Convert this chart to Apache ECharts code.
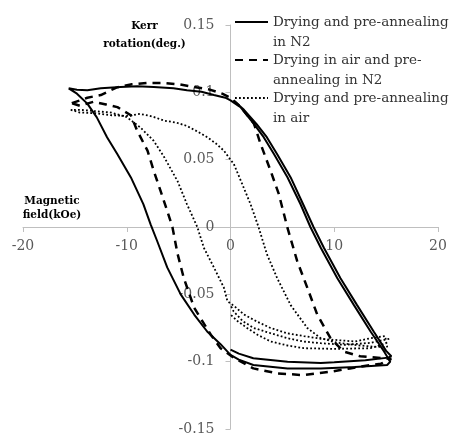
<!DOCTYPE html>
<html>
<head>
<meta charset="utf-8">
<script src="https://cdn.jsdelivr.net/npm/echarts@6/dist/echarts.min.js"></script>
<style>html,body{margin:0;padding:0;background:#fff;}#c{width:450px;height:433px;}</style>
</head>
<body>
<div id="c"></div>
<script>
// ---- data (field kOe, Kerr rotation deg.) ----
var seriesNames = ['Drying and pre-annealing in N2', 'Drying in air and pre-annealing in N2', 'Drying and pre-annealing in air'];
var legendLabels = ['Drying and pre-annealing\nin N2', 'Drying in air and pre-\nannealing in N2', 'Drying and pre-annealing\nin air'];
var xTicks = [-20, -10, 0, 10, 20];
var yTicks = [-0.15, -0.1, -0.05, 0, 0.05, 0.1, 0.15];

var loopN2 = [
  [-15.6,0.103],[-14.8,0.102],[-13.8,0.1015],[-12.5,0.103],[-10.6,0.104],[-9,0.1045],[-7.4,0.104],[-5.5,0.103],[-4.2,0.1015],[-2.8,0.1005],[-1.6,0.098],[-0.5,0.096],[0,0.094],
  [0.96,0.089],[2.25,0.0766],[3.2,0.0667],[4.2,0.054],[5.5,0.0368],[6.75,0.0169],[7.7,0],[8.7,-0.0154],[10.3,-0.038],[11.9,-0.058],[13.5,-0.0776],[14.8,-0.0925],[15.4,-0.1],
  [15.1,-0.1025],[12,-0.104],[8.7,-0.105],[5.5,-0.105],[2.2,-0.1025],[0.8,-0.0985],[0,-0.095],
  [-0.96,-0.087],[-2.25,-0.0776],[-3.5,-0.065],[-4.8,-0.05],[-6.1,-0.03],[-7.07,-0.0104],[-7.7,0.002],[-8.4,0.017],[-9.6,0.0368],[-10.9,0.054],[-11.9,0.0667],[-12.9,0.0816],[-13.8,0.0916],[-14.8,0.099],[-15.6,0.103],
  [null,null],
  [0.3,0.094],[1.3,0.087],[2.5,0.0766],[3.5,0.0667],[4.5,0.054],[5.8,0.0368],[7.0,0.0169],[8.0,0],[9.0,-0.0154],[10.6,-0.038],[12.2,-0.058],[13.8,-0.0776],[15.0,-0.092],[15.5,-0.096],
  [15.2,-0.097],[13,-0.099],[10,-0.1005],[8.7,-0.101],[5.5,-0.1],[2.2,-0.0975],[0.8,-0.094],[0,-0.091]
];

var loopAirN2 = [
  [-15.3,0.092],[-14.5,0.094],[-13.8,0.096],[-12.5,0.098],[-11,0.1035],[-9.5,0.106],[-8,0.107],[-6.5,0.107],[-5,0.106],[-3.5,0.104],[-2,0.102],[-0.8,0.099],[0,0.096],
  [1,0.089],[2.25,0.077],[2.9,0.0617],[3.86,0.0418],[4.66,0.0244],[5.47,0],[6.43,-0.0254],[7.4,-0.045],[8.36,-0.065],[9.64,-0.0826],[10.9,-0.0925],[12.5,-0.096],[14.8,-0.0975],[15.5,-0.098],
  [14.5,-0.1015],[13.5,-0.1025],[11.5,-0.105],[9.64,-0.1075],[7.07,-0.11],[4.5,-0.1087],[2.2,-0.105],[0.3,-0.097],
  [-0.96,-0.09],[-1.9,-0.08],[-3.5,-0.06],[-4.5,-0.038],[-5.1,-0.02],[-5.6,0],[-6.1,0.012],[-6.75,0.027],[-7.4,0.0418],[-8.0,0.0567],[-9.0,0.0716],[-9.6,0.083],[-10.9,0.089],[-12,0.091],[-13.2,0.093],[-14.5,0.09],[-15.3,0.092]
];

var loopAir = [
  [-15.4,0.087],[-14.5,0.085],[-13,0.0845],[-11.5,0.083],[-10,0.0825],[-8.7,0.084],[-7.5,0.082],[-6.4,0.079],[-5.2,0.0775],[-4.2,0.075],[-3.2,0.071],[-2.25,0.0667],[-1.4,0.062],[-0.64,0.0567],[0,0.05],[0.32,0.0468],
  [0.96,0.035],[1.93,0.017],[2.7,0],[3.5,-0.02],[4.5,-0.038],[5.8,-0.058],[7.4,-0.075],[8.7,-0.0826],[10.3,-0.086],[12.5,-0.088],[14,-0.089],[15.1,-0.089],
  [14.9,-0.081],[13.5,-0.0826],[12,-0.085],[10.3,-0.084],[8.7,-0.083],[7.07,-0.081],[5.5,-0.079],[3.86,-0.075],[2.5,-0.07],[1.3,-0.065],[0.4,-0.059],[-0.3,-0.055],
  [-0.64,-0.045],[-1.6,-0.03],[-2.57,-0.0154],[-3.2,0],[-4.2,0.017],[-5.1,0.034],[-6.4,0.052],[-7.4,0.064],[-8.7,0.074],[-10,0.0816],[-11.5,0.085],[-13,0.086],[-14.5,0.087],[-15.4,0.087],
  [null,null],
  [15.3,-0.083],[13.5,-0.086],[11,-0.0875],[8.7,-0.0863],[7,-0.085],[5.5,-0.0826],[3.5,-0.078],[2.25,-0.075],[1.2,-0.07],[0.3,-0.0627],[0,-0.058],
  [null,null],
  [15.1,-0.086],[13.5,-0.09],[10,-0.0905],[7.07,-0.09],[5.5,-0.088],[3.86,-0.085],[2.6,-0.08],[1.6,-0.075],[0.7,-0.07],[0,-0.065]
];

var seriesData = [loopN2, loopAirN2, loopAir];
var lineStyles = [
  {color:'#000', width:2, type:'solid'},
  {color:'#000', width:2.5, type:[8,6]},
  {color:'#000', width:1.8, type:[1.8,2.2]}
];

var chart = echarts.init(document.getElementById('c'));
var serif = 'DejaVu Serif';
var labelMap = {};
seriesNames.forEach(function(n,i){ labelMap[n] = legendLabels[i]; });

var W = 450, H = 433, gL = 23, gR = 12, gT = 25, gB = 4;

chart.setOption({
  animation: false,
  grid: {left: gL, right: gR, top: gT, bottom: gB, containLabel: false, outerBoundsMode: 'none'},
  legend: {
    orient: 'vertical', left: 234, top: -8, padding: 0,
    itemWidth: 33, itemHeight: 14, itemGap: -22,
    data: seriesNames,
    itemStyle: {opacity: 0},
    formatter: function(name){ return '\n' + labelMap[name]; },
    textStyle: {fontFamily: serif, fontSize: 13.5, color: '#333', lineHeight: 20}
  },
  xAxis: {
    type: 'value', min: xTicks[0], max: xTicks[xTicks.length-1], interval: 10,
    position: 'bottom', offset: -(H - gT - gB) / 2,
    name: 'Magnetic\nfield(kOe)', nameLocation: 'start', nameGap: 0, nameMoveOverlap: false,
    nameTextStyle: {fontFamily: serif, fontSize: 10.5, fontWeight: 'bold', color: '#000', lineHeight: 14,
      align: 'center', verticalAlign: 'bottom', padding: [0,0,5,58]},
    axisLine: {onZero: false, lineStyle: {color: '#bfbfbf', width: 1}},
    axisTick: {show: true, length: 5, lineStyle: {color: '#bfbfbf'}},
    axisLabel: {margin: 12, fontFamily: serif, fontSize: 14, color: '#595959'},
    splitLine: {show: false}
  },
  yAxis: {
    type: 'value', min: yTicks[0], max: yTicks[yTicks.length-1], interval: 0.05,
    position: 'left', offset: -(W - gL - gR) / 2,
    name: 'Kerr\nrotation(deg.)', nameLocation: 'end', nameGap: 8, nameMoveOverlap: false,
    nameTextStyle: {fontFamily: serif, fontSize: 10.5, fontWeight: 'bold', color: '#000', lineHeight: 18,
      align: 'center', verticalAlign: 'top', padding: [0,172,0,0]},
    axisLine: {onZero: false, lineStyle: {color: '#bfbfbf', width: 1}},
    axisTick: {show: true, length: 5, lineStyle: {color: '#bfbfbf'}},
    axisLabel: {margin: 16, fontFamily: serif, fontSize: 14, color: '#595959'},
    splitLine: {show: false}
  },
  series: seriesNames.map(function(n, i){
    return {
      name: n, type: 'line', data: seriesData[i], symbol: 'none', showSymbol: false,
      connectNulls: false, smooth: false,
      lineStyle: lineStyles[i], itemStyle: {color: '#000'}, z: 3 - i
    };
  })
});
</script>
</body>
</html>
